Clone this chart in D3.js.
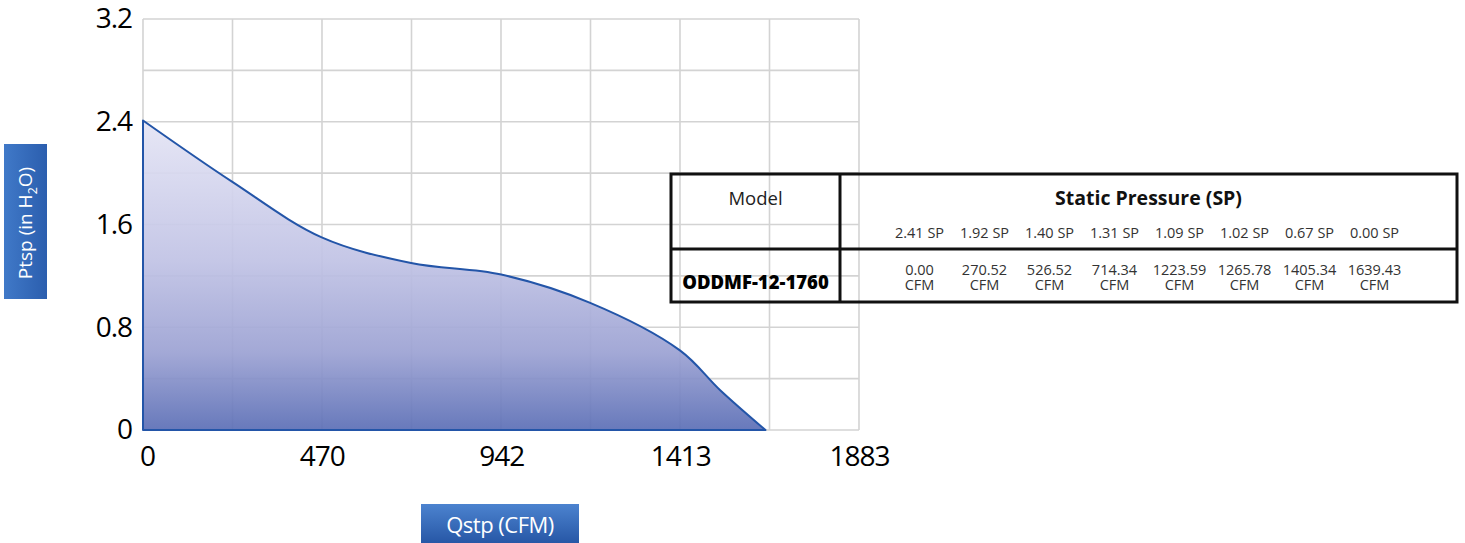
<!DOCTYPE html>
<html>
<head>
<meta charset="utf-8">
<script src="https://cdn.jsdelivr.net/npm/d3@7"></script>
<style>
  body { margin: 0; background: #fff; }
  svg { display: block; font-family: "Open Sans", sans-serif; }
</style>
</head>
<body>
<div id="chart"></div>
<script>
// Curve (CFM, in H2O)
const curveCfm = [0, 236, 470, 705, 942, 1176, 1412, 1518, 1637];
const curveSp  = [2.41, 1.93, 1.50, 1.30, 1.21, 0.99, 0.62, 0.31, 0];

// Axis ticks
const yTicks = [0, 0.8, 1.6, 2.4, 3.2];
const xTicks = [0, 470, 942, 1413, 1883];
const xMax = 1883, yMax = 3.2;

// Table contents
const modelName = "ODDMF-12-1760";
const tableSp  = ["2.41", "1.92", "1.40", "1.31", "1.09", "1.02", "0.67", "0.00"];
const tableCfm = ["0.00", "270.52", "526.52", "714.34", "1223.59", "1265.78", "1405.34", "1639.43"];

const W = 1465, H = 543;
const plot = {left: 143, right: 859, top: 19, bottom: 430};

const svg = d3.select("#chart").append("svg")
  .attr("width", W)
  .attr("height", H);

const defs = svg.append("defs");

const x = d3.scaleLinear().domain([0, xMax]).range([plot.left, plot.right]);
const y = d3.scaleLinear().domain([0, yMax]).range([plot.bottom, plot.top]);

// Gradients
const fillGrad = defs.append("linearGradient")
  .attr("id", "areaFill")
  .attr("gradientUnits", "userSpaceOnUse")
  .attr("x1", 0).attr("x2", 0)
  .attr("y1", y(2.41)).attr("y2", y(0));
[[0, "#e5e5f5"], [0.45, "#c1c3e5"], [0.75, "#9ca2d3"], [1, "#5c6fb6"]].forEach(s => {
  fillGrad.append("stop").attr("offset", s[0]).attr("stop-color", s[1]);
});

const boxGradV = defs.append("linearGradient")
  .attr("id", "boxV").attr("x1", 0).attr("x2", 0).attr("y1", 0).attr("y2", 1);
boxGradV.append("stop").attr("offset", 0).attr("stop-color", "#4c83cf");
boxGradV.append("stop").attr("offset", 1).attr("stop-color", "#2757a6");

const boxGradH = defs.append("linearGradient")
  .attr("id", "boxH").attr("x1", 0).attr("x2", 1).attr("y1", 0).attr("y2", 0);
boxGradH.append("stop").attr("offset", 0).attr("stop-color", "#4079c8");
boxGradH.append("stop").attr("offset", 1).attr("stop-color", "#2b5eae");

// Grid
const gridColor = "#d3d3d3";
const xGrid = d3.range(0, 9).map(i => i * xMax / 8);
const yGrid = d3.range(0, 9).map(i => i * yMax / 8);

svg.append("g")
  .selectAll("line")
  .data(xGrid)
  .join("line")
  .attr("x1", d => x(d)).attr("x2", d => x(d))
  .attr("y1", plot.top).attr("y2", plot.bottom)
  .attr("stroke", gridColor)
  .attr("stroke-width", 1.6);

svg.append("g")
  .selectAll("line")
  .data(yGrid)
  .join("line")
  .attr("x1", plot.left).attr("x2", plot.right)
  .attr("y1", d => y(d)).attr("y2", d => y(d))
  .attr("stroke", gridColor)
  .attr("stroke-width", 1.6);

// Area + line
const pts = curveCfm.map((c, i) => ({cfm: c, sp: curveSp[i]}));
const area = d3.area()
  .x(d => x(d.cfm))
  .y0(y(0))
  .y1(d => y(d.sp))
  .curve(d3.curveCatmullRom.alpha(0.5));

svg.append("path")
  .datum(pts)
  .attr("d", area)
  .attr("fill", "url(#areaFill)")
  .attr("fill-opacity", 0.93)
  .attr("stroke", "#2355a8")
  .attr("stroke-width", 2)
  .attr("stroke-linejoin", "round");

// Axes
const yAxis = svg.append("g")
  .attr("transform", `translate(${plot.left},0)`)
  .call(d3.axisLeft(y).tickValues(yTicks).tickSize(0).tickPadding(11)
    .tickFormat(d => d === 0 ? "0" : d3.format(".1f")(d)));
yAxis.select(".domain").remove();
yAxis.selectAll("text")
  .attr("font-family", "Open Sans, sans-serif")
  .attr("font-size", 28)
  .attr("fill", "#000")
  .attr("letter-spacing", -1);

const xAxis = svg.append("g")
  .attr("transform", `translate(0,${plot.bottom})`)
  .call(d3.axisBottom(x).tickValues(xTicks).tickSize(0).tickPadding(16)
    .tickFormat(d => d));
xAxis.select(".domain").remove();
xAxis.selectAll("text")
  .attr("font-family", "Open Sans, sans-serif")
  .attr("font-size", 28)
  .attr("fill", "#000")
  .attr("letter-spacing", -1)
  .attr("dx", d => d === 0 ? 4 : 0);

// Axis title boxes
svg.append("rect")
  .attr("x", 4).attr("y", 144)
  .attr("width", 43).attr("height", 155)
  .attr("fill", "url(#boxH)");

const yTitle = svg.append("text")
  .attr("transform", "translate(32,223) rotate(-90)")
  .attr("text-anchor", "middle")
  .attr("fill", "#fff")
  .attr("font-size", 19);
yTitle.append("tspan").text("Ptsp (in H");
yTitle.append("tspan").attr("font-size", 12.5).attr("dy", 5).text("2");
yTitle.append("tspan").attr("dy", -5).text("O)");

svg.append("rect")
  .attr("x", 421).attr("y", 504)
  .attr("width", 158).attr("height", 39)
  .attr("fill", "url(#boxV)");

svg.append("text")
  .attr("x", 500).attr("y", 533)
  .attr("text-anchor", "middle")
  .attr("fill", "#fff")
  .attr("font-size", 22)
  .attr("letter-spacing", -0.5)
  .text("Qstp (CFM)");

// Table
const tbl = {left: 671, right: 1457, top: 174, mid: 249, bottom: 302, split: 840};
const tg = svg.append("g");

tg.append("rect")
  .attr("x", tbl.left).attr("y", tbl.top)
  .attr("width", tbl.right - tbl.left).attr("height", tbl.bottom - tbl.top)
  .attr("fill", "none")
  .attr("stroke", "#111")
  .attr("stroke-width", 3);
tg.append("line")
  .attr("x1", tbl.left).attr("x2", tbl.right)
  .attr("y1", tbl.mid).attr("y2", tbl.mid)
  .attr("stroke", "#111").attr("stroke-width", 3);
tg.append("line")
  .attr("x1", tbl.split).attr("x2", tbl.split)
  .attr("y1", tbl.top).attr("y2", tbl.bottom)
  .attr("stroke", "#111").attr("stroke-width", 3);

tg.append("text")
  .attr("x", (tbl.left + tbl.split) / 2).attr("y", 205)
  .attr("text-anchor", "middle")
  .attr("font-size", 18.5)
  .attr("fill", "#222")
  .text("Model");

tg.append("text")
  .attr("x", (tbl.split + tbl.right) / 2).attr("y", 205)
  .attr("text-anchor", "middle")
  .attr("font-size", 19.5)
  .attr("font-weight", "bold")
  .attr("fill", "#111")
  .text("Static Pressure (SP)");

tg.append("text")
  .attr("x", (tbl.left + tbl.split) / 2).attr("y", 289)
  .attr("text-anchor", "middle")
  .attr("font-size", 18.5)
  .attr("font-weight", 800)
  .attr("fill", "#000")
  .text(modelName);

const col = d3.scaleBand().domain(d3.range(tableSp.length)).range([887, 1407]);

tg.selectAll(".sp")
  .data(tableSp)
  .join("text")
  .attr("class", "sp")
  .attr("x", (d, i) => col(i) + col.bandwidth() / 2)
  .attr("y", 237.5)
  .attr("text-anchor", "middle")
  .attr("font-size", 14.5)
  .attr("fill", "#333")
  .text(d => d + " SP");

const cfmText = tg.selectAll(".cfm")
  .data(tableCfm)
  .join("text")
  .attr("class", "cfm")
  .attr("text-anchor", "middle")
  .attr("font-size", 14.5)
  .attr("fill", "#333");
cfmText.append("tspan")
  .attr("x", (d, i) => col(i) + col.bandwidth() / 2)
  .attr("y", 274.5)
  .text(d => d);
cfmText.append("tspan")
  .attr("x", (d, i) => col(i) + col.bandwidth() / 2)
  .attr("y", 290)
  .text("CFM");
</script>
</body>
</html>
